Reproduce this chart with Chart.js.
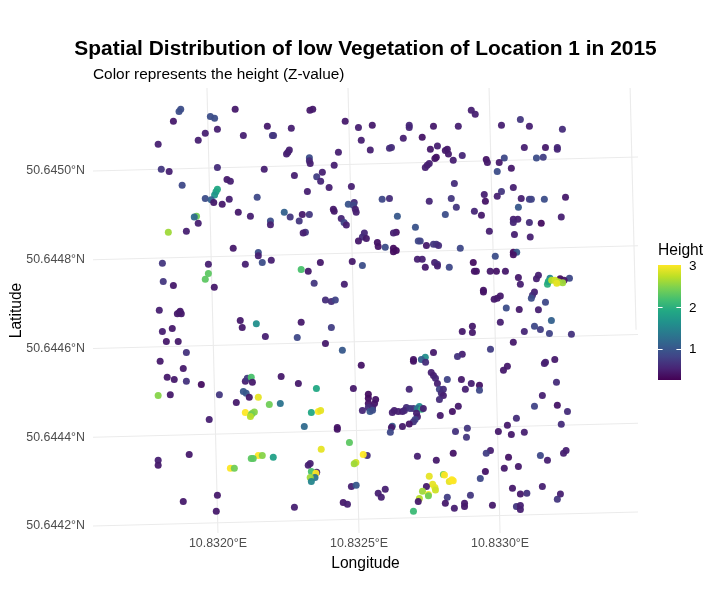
<!DOCTYPE html>
<html>
<head>
<meta charset="utf-8">
<title>Spatial Distribution of low Vegetation</title>
<script src="https://cdn.jsdelivr.net/npm/chart.js@4"></script>
<style>
    html, body { margin: 0; padding: 0; background: #fff; }
    canvas { display: block; }
</style>
</head>
<body>
<canvas id="chart" width="718" height="610"></canvas>
<script>
//point readings, millionths of a degree from 10.832 E and 50.6442 N
const lonOffsets = [
    -132, -138, -158, 61, -27, -12, 326, 336, -45, -2,
    -70, -212, 90, 175, 260, 197, 193, 451, 498, 508,
    253, 243, 248, 427, 324, 324, 327, 412, -2, -201,
    -173, 164, 271, 370, 350, 364, 32, 44, -127, 394,
    473, 317, -2, -7, -12, -45, -24, -15, 15, 40,
    139, 72, 115, 235, 256, 299, 324, 288, 186, 186,
    409, 412, 462, 483, 480, 487, 490, 437, 447, 455,
    -76, -84, -70, -176, -112, 310, 302, 519, 512, 526,
    498, 54, 143, 143, -197, -34, 97, 157, 189, 363,
    476, 512, 295, 320, -34, -45, -194, -158, -13, 341,
    448, 381, 402, 416,
    547, 540, 898, 912, 1072, 1005, 1104, 1221, 678, 678,
    764, 852, 657, 724, 615, 608, 778, 753, 813, 806,
    817, 866, 774, 769, 1086, 1161, 1203, 1203, 1015, 1129,
    1153, 951, 955, 997, 834, 749, 742, 735, 990, 1040,
    838, 1047, 1005, 990, 944, 582, 608, 827, 749, 948,
    1075, 1104, 1111, 1157, 1232, 845, 1065, 909, 806, 934,
    636, 1217, 1063, 1047, 1047, 1104, 1146, 700, 962, 1051,
    1107, 632, 622, 565, 568, 593, 622, 622, 632, 710,
    717, 739, 764, 774, 782, 859, 1047, 1059, 1047, 983,
    707, 724, 768, 778, 778, 735, 820, 905, 909, 916,
    965, 987, 1019, 1065, 1136, 1129, 1072, 941, 941, 1001,
    990, 979, 1122, 1115, 1111, 1161, 1246, 1177, 1213, 1227,
    1168, 1171, 1183, 1195, 1207, 1222, 1201, 1022, 1068, 1136,
    -208, -144, -137, -130, -134, 79, 86, 136, 295, 402,
    -197, -162, -183, -141, 168, 281, 381, -112, 441, -205,
    -123, 508, -180, -155, -112, -59, 224, 285, 97, 104,
    118, 122, 480, 349, -212, -169, 5, 90, 100, 111,
    143, 65, 182, 221, 97, 122, 129, 118, 115, 331,
    356, 364, -31, 306, 423, 423, 512, 466, 366, -212,
    -212, -102, 529, 515, 489, 483, 143, 157, 118, 125,
    196, 44, 58, 320, 327, 350, 331, 347, 344, 327,
    331, 473, 490, -2, -123, -6, 271, 444, 459,
    1001, 902, 866, 902, 1182, 1122, 1143, 1086, 1175, 1253,
    1047, 966, 764, 866, 849, 693, 693, 735, 721, 736,
    1194, 1161, 1157, 1026, 1012, 756, 764, 771, 778, 813,
    863, 898, 927, 927, 877, 678, 1200, 785, 799, 792,
    799, 785, 1150, 852, 831, 1203, 1122, 1239, 788, 533,
    533, 533, 559, 555, 548, 533, 539, 548, 618, 625,
    639, 654, 668, 661, 681, 693, 714, 707, 722, 728,
    704, 707, 699, 693, 678, 618, 615, 654, 611, 842,
    884, 881, 994, 1026, 1058, 1040, 1086, 1217, 707, 774,
    834, 966, 951, 1030, 1015, 1065, 1234, 1225, 1168, 1143,
    948, 930, 749, 799, 803, 820, 834, 829, 761, 769,
    771, 739, 725, 746, 746, 714, 710, 693, 593, 568,
    579, 1044, 1150, 1095, 1072, 1214, 1203, 813, 806, 838,
    874, 874, 895, 973, 1058, 1072, 1072
];
const latOffsets = [
    939, 934, 912, 939, 923, 919, 937, 939, 885, 894,
    869, 860, 880, 901, 896, 880, 880, 912, 898, 869,
    847, 838, 842, 842, 830, 823, 817, 813, 808, 804,
    799, 804, 790, 797, 787, 777, 781, 777, 768, 763,
    765, 754, 759, 753, 746, 738, 735, 729, 725, 736,
    741, 707, 698, 707, 696, 702, 702, 687, 687, 679,
    714, 709, 725, 729, 723, 714, 707, 693, 684, 678,
    698, 696, 682, 662, 664, 662, 660, 660, 651, 648,
    642, 626, 616, 609, 592, 590, 590, 594, 599, 594,
    596, 587, 578, 574, 569, 556, 551, 542, 538, 547,
    545, 509, 506, 509,
    903, 847, 937, 928, 916, 903, 901, 894, 903, 898,
    901, 901, 874, 876, 853, 851, 856, 849, 849, 846,
    838, 835, 831, 828, 853, 853, 853, 849, 829, 829,
    831, 826, 819, 819, 824, 817, 813, 808, 799, 806,
    772, 763, 754, 743, 747, 736, 738, 738, 732, 732,
    738, 736, 736, 736, 741, 718, 718, 709, 702, 700,
    698, 696, 691, 691, 684, 684, 682, 673, 664, 657,
    651, 662, 660, 639, 630, 628, 626, 618, 621, 642,
    642, 632, 635, 635, 632, 626, 617, 617, 611, 608,
    601, 601, 594, 590, 586, 583, 583, 594, 574, 574,
    574, 574, 574, 560, 565, 557, 545, 531, 527, 518,
    513, 511, 527, 520, 513, 504, 558, 558, 557, 554,
    545, 551, 554, 554, 550, 548, 547, 491, 488, 487,
    486, 478, 481, 478, 484, 463, 447, 456, 459, 447,
    438, 445, 416, 416, 427, 425, 411, 391, 396, 371,
    355, 362, 335, 330, 326, 319, 337, 321, 326, 333,
    335, 324, 310, 310, 294, 296, 296, 303, 299, 290,
    290, 278, 274, 276, 256, 254, 257, 251, 247, 256,
    258, 260, 240, 224, 222, 218, 260, 188, 173, 148,
    137, 161, 159, 161, 143, 140, 159, 159, 152, 152,
    155, 130, 130, 137, 141, 121, 123, 119, 109, 109,
    100, 89, 92, 69, 55, 33, 42, 53, 49,
    459, 450, 438, 436, 463, 450, 443, 438, 434, 432,
    414, 398, 391, 387, 382, 375, 371, 380, 375, 369,
    375, 369, 366, 360, 351, 346, 339, 333, 321, 330,
    330, 321, 317, 306, 308, 308, 324, 308, 308, 299,
    294, 285, 294, 270, 258, 272, 270, 258, 249, 297,
    288, 276, 285, 276, 267, 267, 258, 261, 256, 260,
    258, 258, 267, 260, 265, 265, 269, 265, 263, 265,
    254, 246, 240, 235, 230, 225, 222, 224, 211, 213,
    220, 200, 213, 227, 243, 206, 211, 229, 157, 148,
    164, 170, 164, 155, 130, 134, 170, 164, 148, 159,
    123, 107, 112, 116, 115, 100, 102, 104, 94, 87,
    81, 89, 78, 71, 68, 62, 55, 33, 83, 74,
    65, 85, 89, 74, 72, 72, 60, 65, 51, 40,
    51, 44, 69, 47, 44, 46, 37
];
const heights = [
    0.9, 0.9, 0.45, 0.45, 0.9, 0.9, 0.45, 0.45, 0.5, 0.5,
    0.5, 0.5, 0.5, 0.45, 0.5, 0.7, 0.7, 0.45, 0.5, 0.5,
    0.5, 0.5, 0.5, 0.5, 0.9, 0.6, 0.5, 0.5, 0.6, 0.7,
    0.5, 0.5, 0.5, 0.5, 0.75, 0.55, 0.45, 0.5, 0.85, 0.5,
    0.5, 0.5, 1.9, 1.85, 1.7, 0.9, 1.1, 0.45, 0.45, 0.5,
    0.85, 0.45, 0.5, 1.1, 0.7, 0.45, 0.7, 0.7, 0.9, 0.5,
    0.45, 0.45, 0.95, 0.6, 0.85, 0.5, 0.5, 0.55, 0.8, 0.5,
    2.4, 1.2, 0.5, 2.6, 0.5, 0.7, 0.5, 0.55, 0.6, 0.45,
    0.45, 0.45, 0.9, 0.5, 0.7, 0.5, 0.5, 0.9, 0.5, 0.45,
    0.45, 0.9, 2.2, 0.45, 2.3, 2.3, 0.7, 0.45, 0.45, 0.7,
    0.5, 0.6, 0.6, 0.8,
    0.45, 0.5, 0.5, 0.5, 0.7, 0.5, 0.5, 0.6, 0.55, 0.55,
    0.45, 0.5, 0.5, 0.4, 0.6, 0.6, 0.5, 0.45, 0.45, 0.45,
    0.45, 0.55, 0.4, 0.4, 0.5, 0.45, 0.55, 0.55, 0.85, 0.9,
    0.75, 0.4, 0.45, 0.45, 0.5, 0.5, 0.5, 0.5, 0.9, 0.45,
    0.6, 0.5, 0.7, 0.5, 0.5, 0.85, 0.6, 0.7, 0.55, 0.4,
    0.5, 0.75, 0.8, 0.9, 0.45, 0.7, 1.0, 0.55, 0.9, 0.45,
    1.0, 0.5, 0.5, 0.5, 0.55, 0.6, 0.35, 0.95, 0.5, 0.5,
    0.5, 0.4, 0.5, 0.4, 0.4, 0.9, 0.35, 0.35, 0.35, 0.85,
    0.8, 0.45, 0.7, 0.7, 0.6, 0.85, 0.35, 1.0, 0.4, 0.9,
    0.5, 0.5, 0.5, 0.6, 0.5, 0.45, 0.85, 0.35, 0.4, 0.4,
    0.45, 0.4, 0.45, 0.45, 0.5, 0.5, 0.5, 0.4, 0.4, 0.45,
    0.45, 0.45, 0.5, 0.6, 0.9, 0.85, 0.85, 1.5, 0.35, 0.4,
    2.0, 1.9, 2.7, 2.8, 2.7, 2.6, 2.9, 0.9, 0.45, 0.5,
    0.5, 0.45, 0.45, 0.45, 0.45, 0.45, 0.45, 1.6, 0.45, 0.75,
    0.5, 0.45, 0.45, 0.45, 0.5, 0.85, 0.45, 0.65, 1.0, 0.45,
    0.45, 0.4, 0.45, 0.45, 0.65, 0.35, 0.45, 0.45, 0.5, 0.7,
    2.2, 0.45, 0.45, 1.9, 2.5, 0.45, 0.7, 1.0, 1.0, 0.45,
    2.9, 0.45, 2.4, 1.3, 3.0, 2.5, 2.5, 2.4, 2.7, 1.9,
    3.0, 2.9, 0.5, 1.2, 0.4, 0.4, 0.55, 2.3, 2.9, 0.5,
    0.45, 0.45, 0.6, 3.0, 2.8, 2.6, 3.0, 2.5, 2.3, 2.3,
    1.8, 3.0, 2.4, 0.5, 0.5, 0.5, 2.2, 3.0, 1.3, 2.6,
    1.5, 0.5, 1.0, 0.45, 0.45, 0.45, 0.5, 0.45, 0.5,
    0.5, 0.45, 0.45, 0.45, 1.1, 0.85, 0.75, 0.55, 0.8, 0.65,
    0.45, 0.75, 0.45, 0.5, 0.65, 0.4, 0.4, 1.6, 1.1, 0.6,
    0.45, 0.5, 0.5, 0.45, 0.45, 0.5, 0.5, 0.55, 0.5, 0.8,
    0.45, 0.5, 0.4, 0.85, 0.5, 0.55, 0.6, 0.8, 0.6, 0.6,
    0.5, 0.6, 0.5, 0.45, 0.4, 0.4, 0.8, 0.6, 0.45, 0.35,
    0.35, 0.4, 0.4, 0.4, 0.5, 0.6, 1.0, 0.9, 0.5, 0.5,
    0.5, 0.5, 0.6, 0.55, 0.7, 0.7, 1.6, 1.3, 2.0, 0.5,
    0.5, 0.5, 0.8, 0.7, 0.4, 1.0, 0.45, 0.45, 0.85, 0.65,
    0.7, 0.7, 0.45, 0.45, 0.6, 0.45, 0.5, 0.6, 0.5, 0.45,
    0.4, 0.5, 0.75, 0.4, 0.45, 0.45, 0.5, 0.5, 0.5, 0.85,
    0.4, 0.85, 2.9, 2.4, 3.0, 2.9, 3.0, 3.0, 2.9, 2.9,
    2.8, 0.45, 2.6, 3.0, 2.4, 2.7, 0.45, 2.1, 0.5, 0.5,
    0.5, 0.45, 0.5, 0.65, 0.45, 0.5, 0.7, 0.75, 0.45, 0.5,
    0.45, 0.45, 0.7, 0.45, 0.7, 0.5, 0.5
];

//axis ticks and graticule
const lonTicks = [10.832, 10.8325, 10.833];
const lonTickLabels = ["10.8320°E", "10.8325°E", "10.8330°E"];
const latTicks = [50.6442, 50.6444, 50.6446, 50.6448, 50.645];
const latTickLabels = ["50.6442°N", "50.6444°N", "50.6446°N", "50.6448°N", "50.6450°N"];
const lonLines = [10.832, 10.8325, 10.833, 10.8335];
const lonLineStarts = [50.6441842, 50.6441842, 50.6441842, 50.644642];
const lonRange = [10.831557, 10.833489];
const latRange = [50.6441842, 50.645187];
const latLineRise = 0.0000315;
const lonLineLean = 0.000039;

//colour bar
const heightRange = [0.25, 3];
const heightTicks = [1, 2, 3];
const viridis = ["#440154", "#482475", "#414487", "#355f8d", "#2a788e", "#21918c",
    "#22a884", "#44bf70", "#7ad151", "#bddf26", "#fde725"];

const chartTitle = "Spatial Distribution of low Vegetation of Location 1 in 2015";

function hexToRgb(hex) {
    return [1, 3, 5].map(i => parseInt(hex.slice(i, i + 2), 16));
}

function heightColor(h, alpha) {
    const t = Math.min(1, Math.max(0, (h - heightRange[0]) / (heightRange[1] - heightRange[0])));
    const pos = t * (viridis.length - 1);
    const i = Math.min(viridis.length - 2, Math.floor(pos));
    const a = hexToRgb(viridis[i]);
    const b = hexToRgb(viridis[i + 1]);
    const f = pos - i;
    const rgb = a.map((v, k) => Math.round(v + (b[k] - v) * f));
    return `rgba(${rgb[0]}, ${rgb[1]}, ${rgb[2]}, ${alpha})`;
}

const points = lonOffsets.map((v, i) => ({x: 10.832 + v / 1e6, y: 50.6442 + latOffsets[i] / 1e6}));

const gridStyle = {
    showLine: true,
    pointRadius: 0,
    borderColor: "#ebebeb",
    borderWidth: 1.1
};
const latGrid = latTicks.map(lat => ({
    ...gridStyle,
    data: [{x: lonRange[0], y: lat}, {x: lonRange[1], y: lat + latLineRise}]
}));
const lonGrid = lonLines.map((lon, i) => {
    const share = (lonLineStarts[i] - latRange[0]) / (latRange[1] - latRange[0]);
    return {
        ...gridStyle,
        data: [{x: lon - lonLineLean * share, y: lonLineStarts[i]}, {x: lon - lonLineLean, y: latRange[1]}]
    };
});

//the built in title gets squeezed to the plot width, so draw it here with the colour bar
const overlay = {
    id: "overlay",
    afterDraw(chart) {
        const ctx = chart.ctx;
        const left = 658, top = 265, width = 23, height = 115;
        const yOf = h => top + height * (heightRange[1] - h) / (heightRange[1] - heightRange[0]);

        ctx.save();
        ctx.fillStyle = "#000000";
        ctx.font = "bold 20.93px 'Liberation Sans'";
        ctx.textAlign = "center";
        ctx.fillText(chartTitle, 365.5, 55);
        ctx.textAlign = "left";

        const grad = ctx.createLinearGradient(0, top + height, 0, top);
        viridis.forEach((c, i) => grad.addColorStop(i / (viridis.length - 1), c));
        ctx.fillStyle = grad;
        ctx.fillRect(left, top, width, height);

        ctx.strokeStyle = "#ffffff";
        ctx.lineWidth = 1;
        ctx.fillStyle = "#000000";
        ctx.font = "13.5px 'Liberation Sans'";
        ctx.textBaseline = "middle";
        heightTicks.forEach(h => {
            const y = Math.round(yOf(h)) + 0.5;
            if (h < heightRange[1]) {
                ctx.beginPath();
                ctx.moveTo(left, y);
                ctx.lineTo(left + 4.6, y);
                ctx.moveTo(left + width - 4.6, y);
                ctx.lineTo(left + width, y);
                ctx.stroke();
            }
            ctx.fillText(String(h), 689, yOf(h) + 1);
        });
        ctx.font = "15.6px 'Liberation Sans'";
        ctx.textBaseline = "alphabetic";
        ctx.fillText("Height", 658, 255);
        ctx.restore();
    }
};

new Chart(document.getElementById("chart"), {
    type: "scatter",
    data: {
        datasets: [{
            label: "Height",
            data: points,
            pointRadius: 3.5,
            pointHoverRadius: 3.5,
            pointBorderWidth: 0,
            pointBackgroundColor: heights.map(h => heightColor(h, 0.95))
        }, ...latGrid, ...lonGrid]
    },
    plugins: [overlay],
    options: {
        responsive: false,
        animation: false,
        layout: {padding: {top: 65.5, left: 7, right: 80, bottom: 37}},
        plugins: {
            legend: {display: false},
            tooltip: {enabled: false},
            subtitle: {
                display: true,
                text: "Color represents the height (Z-value)",
                fullSize: false,
                align: "start",
                color: "#000000",
                font: {family: "'Liberation Sans'", size: 15.4, lineHeight: 1.2},
                padding: {top: 0, bottom: 4}
            }
        },
        scales: {
            x: {
                type: "linear",
                min: lonRange[0],
                max: lonRange[1],
                grid: {display: false, drawTicks: false},
                border: {display: false},
                afterBuildTicks(scale) { scale.ticks = lonTicks.map(v => ({value: v})); },
                afterFit(scale) { scale.height = 40; },
                ticks: {
                    autoSkip: false,
                    maxRotation: 0,
                    padding: 3,
                    color: "#4d4d4d",
                    font: {family: "'Liberation Sans'", size: 12.4},
                    callback: (v, i) => lonTickLabels[i]
                },
                title: {
                    display: true,
                    text: "Longitude",
                    color: "#000000",
                    font: {family: "'Liberation Sans'", size: 15.6},
                    padding: 0
                }
            },
            y: {
                type: "linear",
                min: latRange[0],
                max: latRange[1],
                grid: {display: false, drawTicks: false},
                border: {display: false},
                afterBuildTicks(scale) { scale.ticks = latTicks.map(v => ({value: v})); },
                afterFit(scale) { scale.width = 86; },
                ticks: {
                    autoSkip: false,
                    padding: 8,
                    color: "#4d4d4d",
                    font: {family: "'Liberation Sans'", size: 12.4},
                    callback: (v, i) => latTickLabels[i]
                },
                title: {
                    display: true,
                    text: "Latitude",
                    color: "#000000",
                    font: {family: "'Liberation Sans'", size: 15.6},
                    padding: 0
                }
            }
        }
    }
});
</script>
</body>
</html>
